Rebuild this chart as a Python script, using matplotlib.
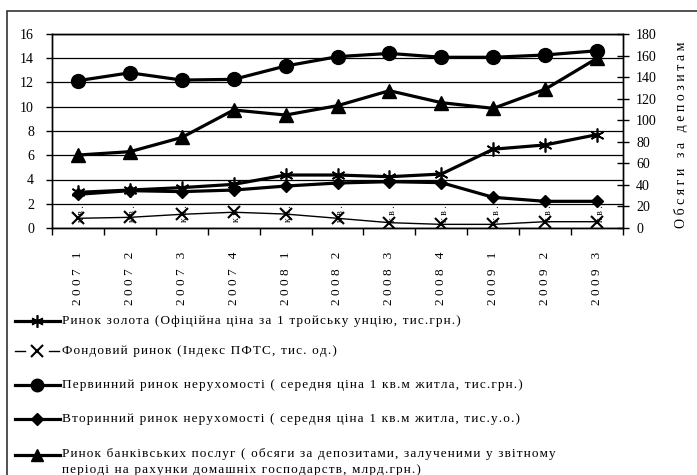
import numpy as np
import matplotlib
matplotlib.use("Agg")
import matplotlib.pyplot as plt
from matplotlib.lines import Line2D
from matplotlib.patches import Rectangle
from matplotlib.transforms import blended_transform_factory

plt.rcParams['font.family'] = ['Liberation Serif', 'DejaVu Serif']

years = ['2007', '2007', '2007', '2007', '2008', '2008', '2008', '2008', '2009', '2009', '2009']
quarters = ['1', '2', '3', '4', '1', '2', '3', '4', '1', '2', '3']

gold = [2.94, 3.13, 3.33, 3.6, 4.37, 4.37, 4.23, 4.45, 6.5, 6.85, 7.7]
stock = [0.8, 0.88, 1.13, 1.3, 1.15, 0.8, 0.44, 0.3, 0.3, 0.52, 0.52]
primary = [12.15, 12.8, 12.2, 12.26, 13.36, 14.13, 14.4, 14.08, 14.08, 14.27, 14.62]
secondary = [2.78, 3.08, 3.0, 3.13, 3.46, 3.71, 3.82, 3.74, 2.53, 2.2, 2.2]
deposits = [67.7, 70.8, 84.0, 109.5, 104.8, 113.5, 127.4, 116.3, 111.0, 128.7, 157.5]

legend_labels = [
    'Ринок золота (Офіційна ціна за 1 тройську унцію, тис.грн.)',
    'Фондовий ринок (Індекс ПФТС, тис. од.)',
    'Первинний ринок нерухомості ( середня ціна 1 кв.м житла, тис.грн.)',
    'Вторинний ринок нерухомості ( середня ціна 1 кв.м житла, тис.у.о.)',
    'Ринок банківських послуг ( обсяги за депозитами, залученими у звітному\nперіоді на рахунки домашніх господарств, млрд.грн.)',
]
right_label = 'Обсяги за депозитам'


def spaced(s, gap='\u200a'):
    # stretch the text a bit, the way the source document renders it
    return '\n'.join(gap.join(line) for line in s.split('\n'))


W, H = 697, 475
fig = plt.figure(figsize=(W / 100, H / 100), dpi=100)
ax = fig.add_axes([52 / W, 1 - 228 / H, (623 - 52) / W, (228 - 34) / H])
ax2 = ax.twinx()

x = np.arange(len(years))
ax.set_xlim(-0.5, len(years) - 0.5)
ax.set_ylim(0, 16)
ax2.set_ylim(0, 180)
ax.set_yticks(np.arange(0, 17, 2))
ax2.set_yticks(np.arange(0, 181, 20))
ax.yaxis.grid(True, color='black', lw=0.9)
ax.set_axisbelow(True)

ax.set_xticks(np.arange(-0.5, len(years), 1))
ax.set_xticklabels([])
ax.tick_params(axis='x', direction='out', length=5, width=1)
ax.tick_params(axis='y', direction='out', length=4, width=1, labelsize=10, pad=9)
ax2.tick_params(axis='y', direction='inout', length=9, width=1, labelsize=10, pad=5)
for a in (ax, ax2):
    for s in a.spines.values():
        s.set_linewidth(1.0)

lw = 2.3
st_gold = dict(lw=lw, marker=(6, 2, 0), ms=10, mew=1.2)
st_stock = dict(lw=1.0, marker='x', ms=9, mew=1.5)
st_primary = dict(lw=lw, marker='o', ms=10)
st_secondary = dict(lw=lw, marker='D', ms=6.5)
st_deposits = dict(lw=lw, marker='^', ms=10)

ax.plot(x, primary, color='black', zorder=3, **st_primary)
ax.plot(x, gold, color='black', zorder=3, **st_gold)
ax.plot(x, secondary, color='black', zorder=3, **st_secondary)
ax.plot(x, stock, color='black', zorder=3, **st_stock)
ax2.plot(x, deposits, color='black', zorder=3, **st_deposits)

# category labels: year + quarter below the axis, small "кв." above it
tr = blended_transform_factory(ax.transData, ax.transAxes)
for i in range(len(years)):
    ax.text(i, -(305 - 228) / 194, spaced(years[i], ' ') + '   ' + quarters[i],
            rotation=90, ha='center', va='bottom', fontsize=9.5, transform=tr, clip_on=False)
    ax.text(i + 0.06, 0.03, 'к в .', rotation=90, ha='center', va='bottom',
            fontsize=7, transform=tr, zorder=4)

fig.text(681 / W, 1 - 228 / H, ' '.join(right_label), rotation=90,
         ha='center', va='bottom', fontsize=10)

# legend under the plot
styles = [st_gold, st_stock, st_primary, st_secondary, st_deposits]
rows = [321, 351, 385, 419, 455]
for n, (lab, st, yy) in enumerate(zip(legend_labels, styles, rows)):
    yf = 1 - yy / H
    if n == 1:
        segs = [(15, 25), (49, 59)]
    else:
        segs = [(15, 60)]
    for a, b in segs:
        fig.add_artist(Line2D([a / W, b / W], [yf, yf], color='black', lw=st['lw'],
                              transform=fig.transFigure))
    fig.add_artist(Line2D([37 / W], [yf], color='black', transform=fig.transFigure, ls='none',
                          marker=st['marker'], ms=st['ms'] * 0.9, mew=st.get('mew', 1)))
    if '\n' in lab:
        fig.text(62 / W, 1 - (yy - 7) / H, spaced(lab), ha='left', va='top',
                 fontsize=9.5, linespacing=1.4)
    else:
        fig.text(62 / W, yf, spaced(lab), ha='left', va='center', fontsize=9.5)

# outer frame
fig.add_artist(Rectangle((7 / W, -0.1), 1.1, 1 - 11 / H + 0.1, transform=fig.transFigure,
                         fill=False, ec='#333333', lw=1.2))

fig.savefig('out.png', dpi=100)
